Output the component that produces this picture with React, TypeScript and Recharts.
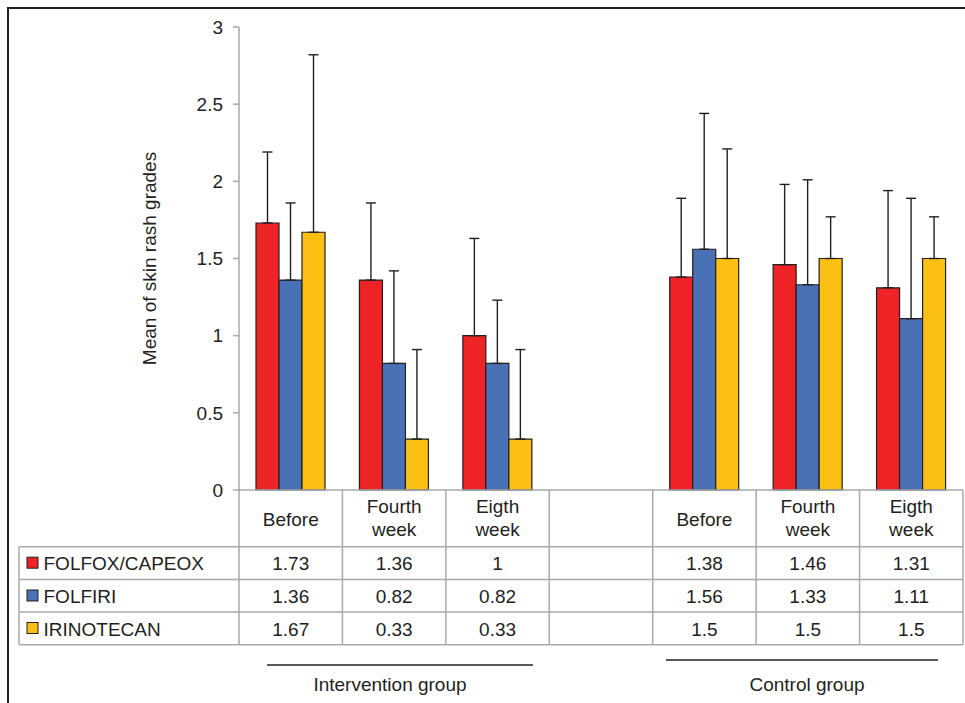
import { BarChart, Bar, XAxis, YAxis, ErrorBar } from 'recharts'

const categories = ['Before', 'Fourth\nweek', 'Eigth\nweek', '', 'Before', 'Fourth\nweek', 'Eigth\nweek']
const folfox = [1.73, 1.36, 1, null, 1.38, 1.46, 1.31]
const folfiri = [1.36, 0.82, 0.82, null, 1.56, 1.33, 1.11]
const irinotecan = [1.67, 0.33, 0.33, null, 1.5, 1.5, 1.5]
// upper error (SD)
const folfoxErr = [0.46, 0.5, 0.63, null, 0.51, 0.52, 0.63]
const folfiriErr = [0.5, 0.6, 0.41, null, 0.88, 0.68, 0.78]
const irinotecanErr = [1.15, 0.58, 0.58, null, 0.71, 0.27, 0.27]
const yTicks = [0, 0.5, 1, 1.5, 2, 2.5, 3]

const series = [
  { key: 'folfox', name: 'FOLFOX/CAPEOX', color: '#ee2326', values: folfox, err: folfoxErr },
  { key: 'folfiri', name: 'FOLFIRI', color: '#4a71b6', values: folfiri, err: folfiriErr },
  { key: 'irinotecan', name: 'IRINOTECAN', color: '#fcc014', values: irinotecan, err: irinotecanErr },
]

const groups = [
  { label: 'Intervention group', x1: 267, x2: 533, y: 665, cx: 390 },
  { label: 'Control group', x1: 666, x2: 938, y: 660, cx: 807 },
]

const W = 965
const H = 703
const AXIS_W = 239
const RIGHT = 2
const TOP = 27
const XAXIS_H = 213
const AXIS_Y = H - XAXIS_H
const BAND = (W - AXIS_W - RIGHT) / categories.length
const ROWS = [AXIS_Y + 56.7, AXIS_Y + 89.5, AXIS_Y + 122, AXIS_Y + 154.7]
const LEGEND_X = 19
const GRID = '#a7a9ac'
const TEXT = '#231f20'
const FONT = 'Arial, "Liberation Sans", Helvetica, sans-serif'

const chartData = categories.map((c, i) => {
  const row: any = { id: 'c' + i, label: c }
  series.forEach((s) => {
    row[s.key] = s.values[i]
    row[s.key + 'Err'] = s.err[i] == null ? null : [0, s.err[i]]
  })
  return row
})

function TableTick(props: any) {
  const { payload } = props
  const idx = chartData.findIndex((d) => d.id === payload.value)
  const cx = payload.coordinate
  const left = cx - BAND / 2
  const right = cx + BAND / 2
  const lines = categories[idx].split('\n')
  const isLast = idx === categories.length - 1
  return (
    <g fontFamily={FONT} fontSize={19} fill={TEXT}>
      <line x1={left} y1={AXIS_Y} x2={left} y2={ROWS[3]} stroke={GRID} strokeWidth={1.5} />
      {isLast && <line x1={right} y1={AXIS_Y} x2={right} y2={ROWS[3]} stroke={GRID} strokeWidth={1.5} />}
      {ROWS.map((ry, r) => (
        <line key={r} x1={left} y1={ry} x2={right} y2={ry} stroke={GRID} strokeWidth={1.5} />
      ))}
      {lines.length === 1 ? (
        <text x={cx} y={AXIS_Y + 36} textAnchor="middle">{lines[0]}</text>
      ) : (
        lines.map((l, k) => (
          <text key={k} x={cx} y={AXIS_Y + 23 + k * 23} textAnchor="middle">{l}</text>
        ))
      )}
      {series.map((s, r) =>
        s.values[idx] == null ? null : (
          <text key={s.key} x={cx} y={ROWS[r] + 23.5} textAnchor="middle">{s.values[idx]}</text>
        )
      )}
      {idx === 0 && (
        <g>
          <line x1={LEGEND_X} y1={ROWS[0]} x2={LEGEND_X} y2={ROWS[3]} stroke={GRID} strokeWidth={1.5} />
          {ROWS.map((ry, r) => (
            <line key={r} x1={LEGEND_X} y1={ry} x2={left} y2={ry} stroke={GRID} strokeWidth={1.5} />
          ))}
          {series.map((s, r) => (
            <g key={s.key}>
              <rect x={27} y={ROWS[r] + 10.5} width={11} height={11} fill={s.color} stroke={TEXT} strokeWidth={1} />
              <text x={43.5} y={ROWS[r] + 23.5}>{s.name}</text>
            </g>
          ))}
        </g>
      )}
    </g>
  )
}

export default function App() {
  return (
    <div style={{ position: 'absolute', left: 0, top: 0, width: W, height: H, overflow: 'hidden', background: '#fff' }}>
      <div
        style={{
          position: 'absolute', left: 7, top: 7, width: 1200, height: 1200,
          borderLeft: '2px solid #231f20', borderTop: '2px solid #231f20',
        }}
      />
      <div style={{ position: 'absolute', left: 0, top: 0 }}>
        <BarChart
          width={W}
          height={H}
          data={chartData}
          margin={{ top: TOP, right: RIGHT, bottom: 0, left: 0 }}
          barCategoryGap={17}
          barGap={0}
        >
          <XAxis
            dataKey="id"
            height={XAXIS_H}
            interval={0}
            tickLine={false}
            axisLine={{ stroke: GRID, strokeWidth: 1.5 }}
            tick={<TableTick />}
          />
          <YAxis
            width={AXIS_W}
            domain={[0, 3]}
            ticks={yTicks}
            interval={0}
            tickSize={6}
            tickMargin={10}
            axisLine={{ stroke: GRID, strokeWidth: 1.5 }}
            tickLine={{ stroke: GRID, strokeWidth: 1.5 }}
            tick={{ fill: TEXT, fontSize: 19, fontFamily: FONT }}
            label={{
              value: 'Mean of skin rash grades', angle: -90, position: 'center', dx: 30,
              style: { fill: TEXT, fontSize: 19, fontFamily: FONT, textAnchor: 'middle' },
            }}
          />
          {series.map((s) => (
            <Bar key={s.key} dataKey={s.key} name={s.name} fill={s.color} stroke={TEXT} strokeWidth={1.2} isAnimationActive={false}>
              <ErrorBar dataKey={s.key + 'Err'} direction="y" width={5} stroke={TEXT} strokeWidth={1.4} isAnimationActive={false} />
            </Bar>
          ))}
        </BarChart>
      </div>
      <svg width={W} height={H} style={{ position: 'absolute', left: 0, top: 0, pointerEvents: 'none' }}>
        {groups.map((g) => (
          <g key={g.label}>
            <line x1={g.x1} y1={g.y} x2={g.x2} y2={g.y} stroke={TEXT} strokeWidth={1.3} />
            <text x={g.cx} y={691} textAnchor="middle" fontFamily={FONT} fontSize={19} fill={TEXT}>{g.label}</text>
          </g>
        ))}
      </svg>
    </div>
  )
}
